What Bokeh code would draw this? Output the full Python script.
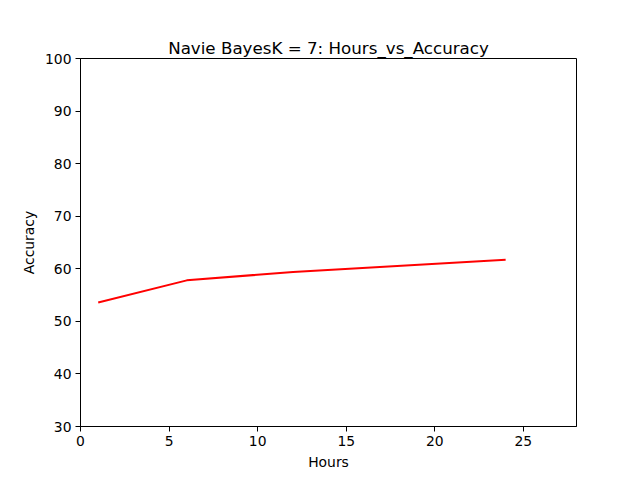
from bokeh.plotting import figure
from bokeh.models import Range1d, FixedTicker
from bokeh.embed import file_html
from bokeh.resources import INLINE

hours = [1, 6, 12, 24]
accuracy = [53.6, 57.8, 59.4, 61.7]
x_ticks = [0, 5, 10, 15, 20, 25]
y_ticks = [30, 40, 50, 60, 70, 80, 90, 100]

FONT = "DejaVu Sans"

p = figure(width=632, height=472, output_backend="svg", toolbar_location=None,
           x_range=Range1d(0, 28), y_range=Range1d(30, 100),
           title="Navie BayesK = 7: Hours_vs_Accuracy")
p.min_border_left = 80
p.min_border_right = 56
p.min_border_top = 58
p.min_border_bottom = 45

p.line(hours, accuracy, line_color="red", line_width=2)

p.title.align = "center"
p.title.text_font = FONT
p.title.text_font_size = "16.7px"
p.title.text_font_style = "normal"
p.title.text_color = "black"
p.title.standoff = 2

p.xgrid.visible = False
p.ygrid.visible = False
p.outline_line_color = "black"
p.outline_line_width = 1
p.outline_line_alpha = 1

p.xaxis.ticker = FixedTicker(ticks=x_ticks)
p.yaxis.ticker = FixedTicker(ticks=y_ticks)
p.xaxis.axis_label = "Hours"
p.yaxis.axis_label = "Accuracy"
for ax in (p.xaxis, p.yaxis):
    ax.major_tick_out = 5
    ax.major_tick_in = 0
    ax.minor_tick_out = 0
    ax.minor_tick_in = 0
    ax.major_tick_line_color = "black"
    ax.axis_line_color = "black"
    ax.major_label_text_font = FONT
    ax.major_label_text_font_size = "13.9px"
    ax.major_label_text_color = "black"
    ax.axis_label_text_font = FONT
    ax.axis_label_text_font_size = "13.9px"
    ax.axis_label_text_font_style = "normal"
    ax.axis_label_text_color = "black"
    ax.major_label_standoff = 4
    ax.axis_label_standoff = 5

open("out.html", "w").write(file_html(p, INLINE))
